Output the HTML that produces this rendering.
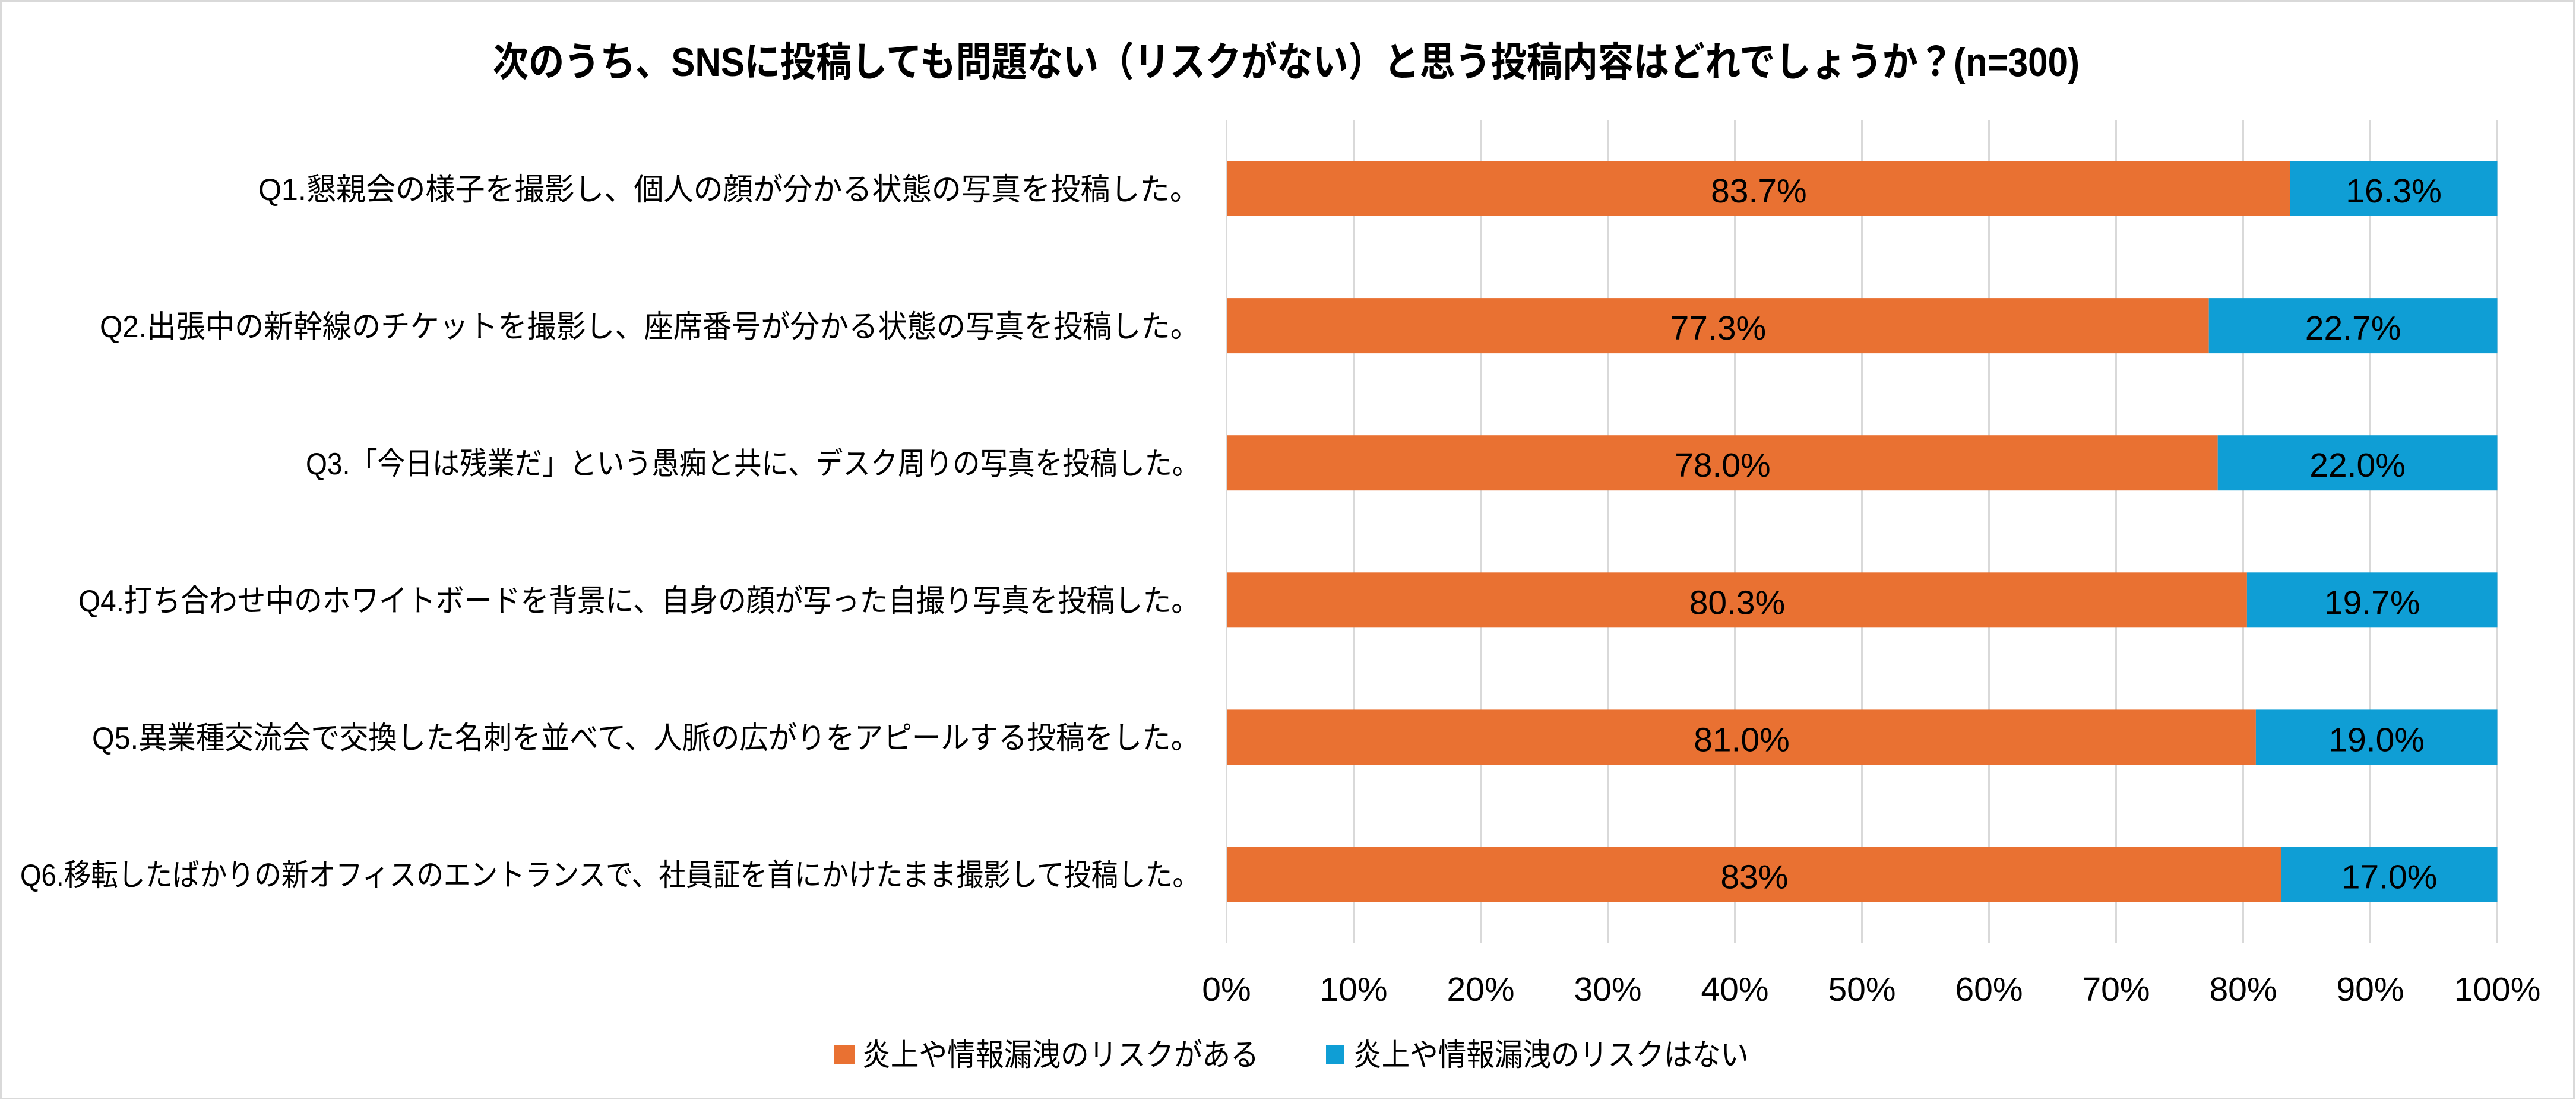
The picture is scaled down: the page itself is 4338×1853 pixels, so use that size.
<!DOCTYPE html>
<html>
<head>
<meta charset="utf-8">
<style>
  html,body{margin:0;padding:0;background:#fff;}
  svg{display:block;}
  .lbl{font-family:"Liberation Sans","Noto Sans CJK JP",sans-serif;font-size:52px;fill:#000;}
  .ttl{font-family:"Liberation Sans","Noto Sans CJK JP",sans-serif;font-size:68px;font-weight:700;fill:#000;}
  .num{font-family:"Liberation Sans",sans-serif;font-size:57px;fill:#000;}
</style>
</head>
<body>
<svg width="4338" height="1853" viewBox="0 0 4338 1853" xmlns="http://www.w3.org/2000/svg">
  <rect x="0" y="0" width="4338" height="1853" fill="#fff"/>
  <rect x="1.5" y="1.5" width="4333" height="1849" fill="none" stroke="#d9d9d9" stroke-width="3"/>

  <!-- Title -->
  <text class="ttl" x="830" y="128" textLength="2672" lengthAdjust="spacingAndGlyphs">次のうち、SNSに投稿しても問題ない（リスクがない）と思う投稿内容はどれでしょうか？(n=300)</text>

  <!-- Gridlines -->
  <g stroke="#d9d9d9" stroke-width="3">
    <line x1="2065.5" y1="202" x2="2065.5" y2="1588"/>
    <line x1="2279.5" y1="202" x2="2279.5" y2="1588"/>
    <line x1="2493.5" y1="202" x2="2493.5" y2="1588"/>
    <line x1="2707.5" y1="202" x2="2707.5" y2="1588"/>
    <line x1="2921.5" y1="202" x2="2921.5" y2="1588"/>
    <line x1="3135.5" y1="202" x2="3135.5" y2="1588"/>
    <line x1="3349.5" y1="202" x2="3349.5" y2="1588"/>
    <line x1="3563.5" y1="202" x2="3563.5" y2="1588"/>
    <line x1="3777.5" y1="202" x2="3777.5" y2="1588"/>
    <line x1="3991.5" y1="202" x2="3991.5" y2="1588"/>
    <line x1="4205.5" y1="202" x2="4205.5" y2="1588"/>
  </g>

  <!-- Bars -->
  <g>
    <rect x="2067" y="271" width="1789.7" height="93" fill="#E97132"/>
    <rect x="3856.7" y="271" width="348.8" height="93" fill="#0F9ED5"/>

    <rect x="2067" y="502.1" width="1652.7" height="93" fill="#E97132"/>
    <rect x="3719.7" y="502.1" width="485.8" height="93" fill="#0F9ED5"/>

    <rect x="2067" y="733.2" width="1667.7" height="93" fill="#E97132"/>
    <rect x="3734.7" y="733.2" width="470.8" height="93" fill="#0F9ED5"/>

    <rect x="2067" y="964.3" width="1716.9" height="93" fill="#E97132"/>
    <rect x="3783.9" y="964.3" width="421.6" height="93" fill="#0F9ED5"/>

    <rect x="2067" y="1195.4" width="1731.9" height="93" fill="#E97132"/>
    <rect x="3798.9" y="1195.4" width="406.6" height="93" fill="#0F9ED5"/>

    <rect x="2067" y="1426.5" width="1774.7" height="93" fill="#E97132"/>
    <rect x="3841.7" y="1426.5" width="363.8" height="93" fill="#0F9ED5"/>
  </g>

  <!-- Data labels -->
  <g class="num" text-anchor="middle">
    <text x="2961.9" y="341">83.7%</text>
    <text x="4031.1" y="341">16.3%</text>
    <text x="2893.4" y="572.1">77.3%</text>
    <text x="3962.6" y="572.1">22.7%</text>
    <text x="2900.9" y="803.2">78.0%</text>
    <text x="3970.1" y="803.2">22.0%</text>
    <text x="2925.5" y="1034.3">80.3%</text>
    <text x="3994.7" y="1034.3">19.7%</text>
    <text x="2933" y="1265.4">81.0%</text>
    <text x="4002.2" y="1265.4">19.0%</text>
    <text x="2954.4" y="1496.5">83%</text>
    <text x="4023.6" y="1496.5">17.0%</text>
  </g>

  <!-- Category labels -->
  <g class="lbl">
    <text x="435" y="337" textLength="1585" lengthAdjust="spacingAndGlyphs">Q1.懇親会の様子を撮影し、個人の顔が分かる状態の写真を投稿した。</text>
    <text x="168" y="568" textLength="1852" lengthAdjust="spacingAndGlyphs">Q2.出張中の新幹線のチケットを撮影し、座席番号が分かる状態の写真を投稿した。</text>
    <text x="515" y="799" textLength="1505" lengthAdjust="spacingAndGlyphs">Q3.「今日は残業だ」という愚痴と共に、デスク周りの写真を投稿した。</text>
    <text x="132" y="1030" textLength="1888" lengthAdjust="spacingAndGlyphs">Q4.打ち合わせ中のホワイトボードを背景に、自身の顔が写った自撮り写真を投稿した。</text>
    <text x="155" y="1261" textLength="1865" lengthAdjust="spacingAndGlyphs">Q5.異業種交流会で交換した名刺を並べて、人脈の広がりをアピールする投稿をした。</text>
    <text x="34" y="1492" textLength="1986" lengthAdjust="spacingAndGlyphs">Q6.移転したばかりの新オフィスのエントランスで、社員証を首にかけたまま撮影して投稿した。</text>
  </g>

  <!-- Axis tick labels -->
  <g class="num" text-anchor="middle">
    <text x="2065.5" y="1686">0%</text>
    <text x="2279.5" y="1686">10%</text>
    <text x="2493.5" y="1686">20%</text>
    <text x="2707.5" y="1686">30%</text>
    <text x="2921.5" y="1686">40%</text>
    <text x="3135.5" y="1686">50%</text>
    <text x="3349.5" y="1686">60%</text>
    <text x="3563.5" y="1686">70%</text>
    <text x="3777.5" y="1686">80%</text>
    <text x="3991.5" y="1686">90%</text>
    <text x="4205.5" y="1686">100%</text>
  </g>

  <!-- Legend -->
  <rect x="1405" y="1760" width="34" height="32" fill="#E97132"/>
  <text class="lbl" x="1452" y="1795" textLength="668" lengthAdjust="spacingAndGlyphs">炎上や情報漏洩のリスクがある</text>
  <rect x="2233" y="1760" width="31" height="32" fill="#0F9ED5"/>
  <text class="lbl" x="2279" y="1795" textLength="666" lengthAdjust="spacingAndGlyphs">炎上や情報漏洩のリスクはない</text>
</svg>
</body>
</html>
